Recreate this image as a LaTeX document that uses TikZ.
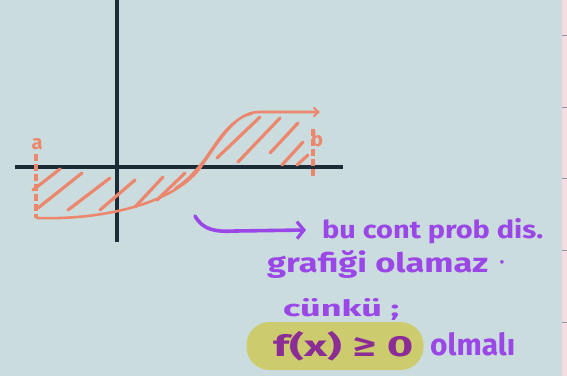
\documentclass[tikz,border=0pt]{standalone}
\usepackage{fontspec}
\setmainfont{Fira Sans}
\usetikzlibrary{arrows.meta}
\definecolor{bgc}{RGB}{202,220,222}
\definecolor{pinkc}{RGB}{245,220,222}
\definecolor{tickc}{RGB}{150,150,160}
\definecolor{axc}{RGB}{28,44,54}
\definecolor{orc}{RGB}{236,135,110}
\definecolor{purc}{RGB}{155,70,230}
\definecolor{magc}{RGB}{140,45,150}
\definecolor{hlc}{RGB}{204,204,110}
\newcommand{\fitbox}[3]{\resizebox{#1pt}{#2pt}{\bfseries #3}}
\tikzset{
  axis/.style={draw=axc, line width=3.2pt},
  curve/.style={draw=orc, line width=2.6pt, line cap=round},
  hatch/.style={draw=orc, line width=3.2pt, line cap=round},
  bound/.style={draw=orc, line width=3.8pt, dash pattern=on 7pt off 3pt},
  lbl/.style={text=orc, font=\bfseries\fontsize{20}{20}\selectfont, inner sep=0pt},
  hand/.style={text=purc, inner sep=0pt, anchor=base west},
  parrow/.style={draw=purc, line width=3.6pt, line cap=round, -{Straight Barb[length=7pt,width=17pt,line width=3.2pt]}}
}
\begin{document}
\begin{tikzpicture}[x=1pt,y=-1pt]
\useasboundingbox (0,0) rectangle (567,376);
\fill[bgc] (0,0) rectangle (567,376);
\fill[pinkc] (562,0) rectangle (567,376);
\foreach \yy in {35,107,178,250,322} \draw[tickc, line width=1pt] (562,\yy) -- (567,\yy);
% axes
\draw[axis] (15,167) -- (343,167);
\draw[axis] (117,0) -- (117,242);
% bounds
\draw[bound] (36,154) -- (36,218);
\draw[bound] (313,129) -- (313,178);
\node[lbl] (la) at (37,144) {a};
\node[lbl] (lb) at (317,139) {b};
% hatching
\foreach \a/\b/\c/\d in {33/190/60/169, 38/208/82/173, 68/210/110/178, 100/210/135/180, 135/207/163/177, 157/200/185/173,
  217/158/260/117, 238/162/280/118, 270/153/298/123, 282/165/303/142, 297/165/308/155}
  \draw[hatch] (\a,\b) -- (\c,\d);
% curve
\coordinate (cS) at (37,218);
\coordinate (cM) at (200,168);
\coordinate (cT) at (258,112);
\coordinate (cE) at (320,112);
\draw[curve, -{Straight Barb[length=5pt,width=9pt,line width=2pt]}] (cS) .. controls (100,220) and (172,205) .. (cM) .. controls (222,136) and (236,113) .. (cT) -- (cE);
\draw[curve, line width=1.8pt] (175,188) .. controls (188,180) and (196,170) .. (204,160) .. controls (218,140) and (230,118) .. (252,114);
% text
\node[hand] (t1) at (322,238) {\fitbox{221}{20}{bu cont prob dis.}};
\node[hand] (t2) at (267,272) {\fitbox{221}{22}{grafiği olamaz}};
\node[text=purc, font=\bfseries\fontsize{20}{20}\selectfont, inner sep=0pt] (t2d) at (502,265) {·};
\node[hand] (t3) at (283,316) {\fitbox{116}{18}{cünkü ;}};
\node[fill=hlc, rounded corners=23pt, minimum width=177pt, minimum height=48pt, inner sep=0pt] (hl) at (335,346) {};
\node[hand, text=magc] (t4) at (273,356) {\fitbox{140}{25}{f(x) ≥ 0}};
\node[hand] (t5) at (430,355) {\fitbox{85}{23}{olmalı}};
% arrow
\coordinate (pS) at (195,216);
\coordinate (pE) at (306,230);
\draw[parrow] (pS) .. controls (203,230) and (215,232) .. (235,231) -- (pE);
\end{tikzpicture}
\end{document}
